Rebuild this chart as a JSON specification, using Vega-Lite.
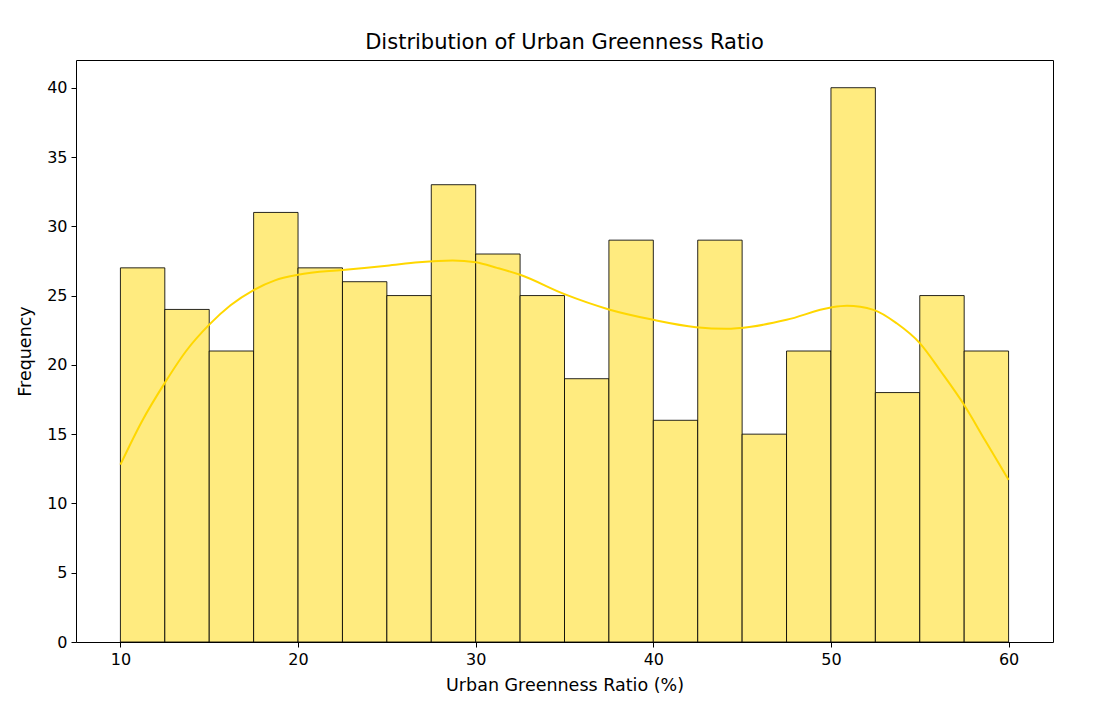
{
  "$schema": "https://vega.github.io/schema/vega-lite/v6.json",
  "width": 977,
  "height": 582,
  "autosize": {"type": "none"},
  "padding": {"left": 76, "top": 60, "right": 48, "bottom": 75},
  "background": "white",
  "config": {
    "font": "DejaVu Sans",
    "view": {"stroke": "#000000", "strokeWidth": 1},
    "axis": {
      "grid": false,
      "domain": false,
      "tickColor": "#000000",
      "tickSize": 5,
      "tickWidth": 1,
      "labelFont": "DejaVu Sans",
      "labelFontSize": 16,
      "labelColor": "#000000",
      "titleFont": "DejaVu Sans",
      "titleFontSize": 17.5,
      "titleFontWeight": "normal",
      "titleColor": "#000000",
      "labelPadding": 4
    }
  },
  "title": {
    "text": "Distribution of Urban Greenness Ratio",
    "font": "DejaVu Sans",
    "fontSize": 21,
    "fontWeight": "normal",
    "color": "#000000",
    "anchor": "middle",
    "offset": 7
  },
  "datasets": {
    "bins": [
      {"start": 10, "end": 12.5, "count": 27},
      {"start": 12.5, "end": 15, "count": 24},
      {"start": 15, "end": 17.5, "count": 21},
      {"start": 17.5, "end": 20, "count": 31},
      {"start": 20, "end": 22.5, "count": 27},
      {"start": 22.5, "end": 25, "count": 26},
      {"start": 25, "end": 27.5, "count": 25},
      {"start": 27.5, "end": 30, "count": 33},
      {"start": 30, "end": 32.5, "count": 28},
      {"start": 32.5, "end": 35, "count": 25},
      {"start": 35, "end": 37.5, "count": 19},
      {"start": 37.5, "end": 40, "count": 29},
      {"start": 40, "end": 42.5, "count": 16},
      {"start": 42.5, "end": 45, "count": 29},
      {"start": 45, "end": 47.5, "count": 15},
      {"start": 47.5, "end": 50, "count": 21},
      {"start": 50, "end": 52.5, "count": 40},
      {"start": 52.5, "end": 55, "count": 18},
      {"start": 55, "end": 57.5, "count": 25},
      {"start": 57.5, "end": 60, "count": 21}
    ],
    "kde": [
      {"x": 10, "y": 12.8},
      {"x": 11.2, "y": 15.9},
      {"x": 12.5, "y": 18.7},
      {"x": 13.7, "y": 21.0},
      {"x": 15, "y": 22.9},
      {"x": 16.2, "y": 24.3},
      {"x": 17.5, "y": 25.4},
      {"x": 18.7, "y": 26.1},
      {"x": 20, "y": 26.5},
      {"x": 22.5, "y": 26.85},
      {"x": 25, "y": 27.15},
      {"x": 26.8, "y": 27.4},
      {"x": 28.7, "y": 27.53},
      {"x": 30, "y": 27.4},
      {"x": 31.2, "y": 27.0},
      {"x": 32.5, "y": 26.5},
      {"x": 35, "y": 25.1},
      {"x": 37.5, "y": 24.0},
      {"x": 40, "y": 23.25},
      {"x": 42.4, "y": 22.72},
      {"x": 44.1, "y": 22.6},
      {"x": 45.5, "y": 22.75},
      {"x": 47.5, "y": 23.25},
      {"x": 50, "y": 24.14},
      {"x": 50.9, "y": 24.26},
      {"x": 52.4, "y": 23.97},
      {"x": 53.7, "y": 23.0},
      {"x": 55, "y": 21.57},
      {"x": 56.2, "y": 19.5},
      {"x": 57.5, "y": 17.1},
      {"x": 58.7, "y": 14.5},
      {"x": 60, "y": 11.7}
    ]
  },
  "layer": [
    {
      "data": {"name": "bins"},
      "mark": {"type": "rect", "fill": "#FFEB7F", "stroke": "#000000", "strokeOpacity": 0.85, "strokeWidth": 1},
      "encoding": {
        "x": {
          "field": "start",
          "type": "quantitative",
          "scale": {"domain": [7.5, 62.5], "nice": false, "zero": false},
          "axis": {"values": [10, 20, 30, 40, 50, 60], "title": "Urban Greenness Ratio (%)", "titlePadding": 9}
        },
        "x2": {"field": "end"},
        "y": {
          "field": "count",
          "type": "quantitative",
          "scale": {"domain": [0, 42], "nice": false},
          "axis": {"values": [0, 5, 10, 15, 20, 25, 30, 35, 40], "title": "Frequency", "titlePadding": 12}
        },
        "y2": {"datum": 0}
      }
    },
    {
      "data": {"name": "kde"},
      "mark": {"type": "line", "color": "#FFD700", "strokeWidth": 2, "interpolate": "monotone"},
      "encoding": {
        "x": {"field": "x", "type": "quantitative"},
        "y": {"field": "y", "type": "quantitative"}
      }
    }
  ]
}
